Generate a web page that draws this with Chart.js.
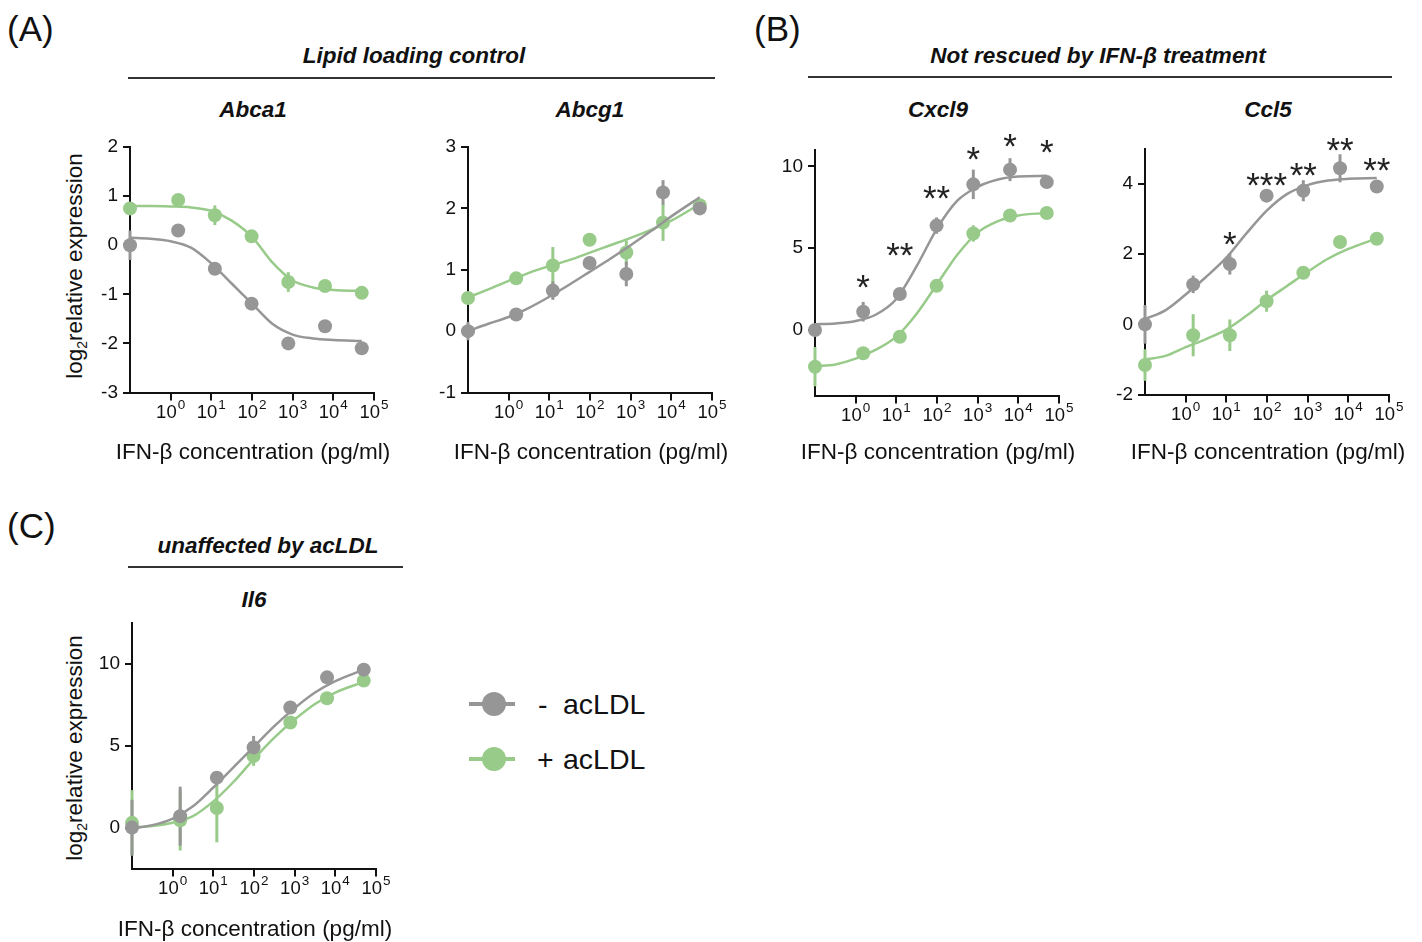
<!DOCTYPE html>
<html>
<head>
<meta charset="utf-8">
<title>IFN-beta dose response</title>
<script src="https://cdn.jsdelivr.net/npm/chart.js@4.4.1/dist/chart.umd.min.js"></script>
<style>
  html, body { margin: 0; padding: 0; background: #fff; }
  body {
    width: 1422px; height: 942px; position: relative; overflow: hidden;
    font-family: "Liberation Sans", Arial, Helvetica, sans-serif; color: #111;
  }
  .abs { position: absolute; white-space: nowrap; line-height: 1; }
  .panel { font-size: 35px; }
  .group, .gene { font-size: 22.5px; font-weight: bold; font-style: italic; transform: translateX(-50%); }
  .rule { position: absolute; height: 1.5px; background: #333; }
  .ytitle { font-size: 22.5px; transform: translate(-50%, -50%) rotate(-90deg); }
  .ytitle sub { font-size: 14px; vertical-align: -5px; line-height: 0; }
  canvas { position: absolute; }
  .leg-line { position: absolute; width: 46px; height: 4px; }
  .leg-dot { position: absolute; width: 24px; height: 24px; border-radius: 50%; }
  .leg-text { font-size: 28.5px; }
</style>
</head>
<body>

<!-- panel letters, group headings, gene names -->
<div class="abs panel" style="left:7px; top:11px;">(A)</div>
<div class="abs panel" style="left:754px; top:11px;">(B)</div>
<div class="abs panel" style="left:7px; top:508px;">(C)</div>

<div class="abs group" style="left:414px; top:45px;">Lipid loading control</div>
<div class="rule" style="left:128px; width:587px; top:77px;"></div>
<div class="abs group" style="left:1098px; top:45px;">Not rescued by IFN-β treatment</div>
<div class="rule" style="left:808px; width:584px; top:76px;"></div>
<div class="abs group" style="left:268px; top:535px;">unaffected by acLDL</div>
<div class="rule" style="left:128px; width:275px; top:566px;"></div>

<div class="abs gene" style="left:253px; top:99px;">Abca1</div>
<div class="abs gene" style="left:590px; top:99px;">Abcg1</div>
<div class="abs gene" style="left:938px; top:99px;">Cxcl9</div>
<div class="abs gene" style="left:1268px; top:99px;">Ccl5</div>
<div class="abs gene" style="left:254px; top:589px;">Il6</div>

<div class="abs ytitle" style="left:75px; top:266px;">log<sub>2</sub>relative expression</div>
<div class="abs ytitle" style="left:75px; top:748px;">log<sub>2</sub>relative expression</div>

<canvas id="abca1"></canvas>
<canvas id="abcg1"></canvas>
<canvas id="cxcl9"></canvas>
<canvas id="ccl5"></canvas>
<canvas id="il6"></canvas>

<!-- legend -->
<div class="leg-line" style="left:469px; top:702px; background:rgb(150,150,150);"></div>
<div class="leg-dot" style="left:482px; top:692px; background:rgb(150,150,150);"></div>
<div class="abs leg-text" style="left:538px; top:690px;">-</div>
<div class="abs leg-text" style="left:563px; top:690px;">acLDL</div>
<div class="leg-line" style="left:469px; top:757px; background:rgb(152,203,138);"></div>
<div class="leg-dot" style="left:482px; top:747px; background:rgb(152,203,138);"></div>
<div class="abs leg-text" style="left:537px; top:745px;">+</div>
<div class="abs leg-text" style="left:563px; top:745px;">acLDL</div>

<script>
// IFN-beta doses (pg/ml). The untreated well (0 pg/ml) sits at the left end of the log axis, 0.1.
const conc = [0.1, 1.53, 12.2, 97.7, 781, 6250, 50000];
const fitX = [0.1, 0.316, 1, 3.16, 10, 31.6, 100, 316, 1000, 3160, 10000, 50000];
const xTickValues = [1, 10, 100, 1000, 10000, 100000];
const xTitle = "IFN-β concentration (pg/ml)";

// ---- Abca1 ----
const abca1Minus    = [0.0, 0.3, -0.48, -1.19, -2.0, -1.65, -2.1];
const abca1MinusErr = [0.3, 0.05, 0.05, 0.08, 0.05, 0.05, 0.05];
const abca1MinusFit = [0.15, 0.13, 0.08, -0.05, -0.37, -0.78, -1.19, -1.6, -1.82, -1.9, -1.93, -1.95];
const abca1Plus     = [0.75, 0.92, 0.61, 0.18, -0.75, -0.83, -0.97];
const abca1PlusErr  = [0.08, 0.05, 0.2, 0.08, 0.2, 0.05, 0.05];
const abca1PlusFit  = [0.8, 0.8, 0.79, 0.77, 0.7, 0.5, 0.17, -0.35, -0.72, -0.86, -0.91, -0.93];

// ---- Abcg1 ----
const abcg1Minus    = [0.0, 0.27, 0.66, 1.11, 0.93, 2.26, 2.0];
const abcg1MinusErr = [0.15, 0.05, 0.15, 0.1, 0.2, 0.2, 0.05];
const abcg1MinusFit = [0.0, 0.12, 0.23, 0.38, 0.56, 0.76, 0.97, 1.18, 1.4, 1.63, 1.87, 2.18];
const abcg1Plus     = [0.54, 0.86, 1.07, 1.49, 1.28, 1.77, 2.05];
const abcg1PlusErr  = [0.05, 0.05, 0.3, 0.05, 0.2, 0.3, 0.05];
const abcg1PlusFit  = [0.55, 0.68, 0.82, 0.95, 1.06, 1.16, 1.28, 1.4, 1.52, 1.65, 1.8, 2.07];

// ---- Cxcl9 ----
const cxcl9Minus    = [0.0, 1.12, 2.2, 6.38, 8.9, 9.8, 9.04];
const cxcl9MinusErr = [0.3, 0.6, 0.2, 0.5, 0.9, 0.7, 0.2];
const cxcl9MinusFit = [0.35, 0.4, 0.55, 0.95, 1.9, 3.9, 6.2, 7.9, 8.75, 9.2, 9.38, 9.42];
const cxcl9Plus     = [-2.24, -1.42, -0.41, 2.7, 5.9, 7.0, 7.15];
const cxcl9PlusErr  = [1.2, 0.2, 0.2, 0.2, 0.5, 0.2, 0.2];
const cxcl9PlusFit  = [-2.2, -2.1, -1.75, -1.2, -0.4, 1.0, 2.8, 4.6, 5.95, 6.65, 7.0, 7.15];
const cxcl9Stars    = ["", "*", "**", "**", "*", "*", "*"];
const cxcl9StarY    = [0, 2.95, 4.9, 8.4, 10.8, 11.6, 11.2];

// ---- Ccl5 ----
const ccl5Minus     = [0.0, 1.14, 1.72, 3.67, 3.81, 4.45, 3.93];
const ccl5MinusErr  = [0.55, 0.25, 0.3, 0.1, 0.3, 0.4, 0.1];
const ccl5MinusFit  = [0.15, 0.4, 0.85, 1.35, 1.9, 2.6, 3.25, 3.72, 3.97, 4.1, 4.15, 4.17];
const ccl5Plus      = [-1.16, -0.31, -0.31, 0.66, 1.47, 2.35, 2.44];
const ccl5PlusErr   = [0.45, 0.6, 0.45, 0.3, 0.1, 0.1, 0.1];
const ccl5PlusFit   = [-1.0, -0.9, -0.65, -0.42, -0.15, 0.25, 0.7, 1.1, 1.5, 1.87, 2.15, 2.45];
const ccl5Stars     = ["", "", "*", "***", "**", "**", "**"];
const ccl5StarY     = [0, 0, 2.46, 4.12, 4.42, 5.14, 4.55];

// ---- Il6 ----
const il6Minus      = [0.0, 0.7, 3.05, 4.9, 7.34, 9.18, 9.65];
const il6MinusErr   = [1.7, 1.8, 0.3, 0.7, 0.3, 0.3, 0.2];
const il6MinusFit   = [-0.05, 0.15, 0.55, 1.3, 2.45, 3.7, 4.95, 6.2, 7.3, 8.25, 8.95, 9.65];
const il6Plus       = [0.29, 0.45, 1.2, 4.37, 6.42, 7.9, 8.98];
const il6PlusErr    = [2.0, 1.85, 2.1, 0.6, 0.3, 0.2, 0.2];
const il6PlusFit    = [0.0, 0.1, 0.3, 0.7, 1.6, 2.8, 4.2, 5.5, 6.6, 7.55, 8.25, 8.9];

const GRAY = "rgb(150, 150, 150)";
const GREEN = "rgb(152, 203, 138)";
const INK = "#111";
const FONT = '"Liberation Sans", Arial, Helvetica, sans-serif';

Chart.defaults.font.family = FONT;
Chart.defaults.color = INK;

// plot boxes on the page (left/top of the axes), all 244 x 245
const PLOT_W = 244, PLOT_H = 245;
const PAD_L = 70, PAD_T = 60, PAD_R = 30;
const TITLE_SIZE = 22.5;

const panels = [
  { id: "abca1", left: 130, top: 147, yMin: -3, yMax: 2, yTicks: [-3, -2, -1, 0, 1, 2], titleGap: 60,
    minus: abca1Minus, minusErr: abca1MinusErr, minusFit: abca1MinusFit,
    plus: abca1Plus, plusErr: abca1PlusErr, plusFit: abca1PlusFit },
  { id: "abcg1", left: 468, top: 147, yMin: -1, yMax: 3, yTicks: [-1, 0, 1, 2, 3], titleGap: 60,
    minus: abcg1Minus, minusErr: abcg1MinusErr, minusFit: abcg1MinusFit,
    plus: abcg1Plus, plusErr: abcg1PlusErr, plusFit: abcg1PlusFit },
  { id: "cxcl9", left: 815, top: 150, yMin: -4, yMax: 11, yTicks: [0, 5, 10], titleGap: 57,
    minus: cxcl9Minus, minusErr: cxcl9MinusErr, minusFit: cxcl9MinusFit,
    plus: cxcl9Plus, plusErr: cxcl9PlusErr, plusFit: cxcl9PlusFit,
    stars: cxcl9Stars, starY: cxcl9StarY },
  { id: "ccl5", left: 1145, top: 149, yMin: -2, yMax: 5, yTicks: [-2, 0, 2, 4], titleGap: 58,
    minus: ccl5Minus, minusErr: ccl5MinusErr, minusFit: ccl5MinusFit,
    plus: ccl5Plus, plusErr: ccl5PlusErr, plusFit: ccl5PlusFit,
    stars: ccl5Stars, starY: ccl5StarY },
  { id: "il6", left: 132, top: 623, yMin: -2.5, yMax: 12.5, yTicks: [0, 5, 10], titleGap: 61,
    minus: il6Minus, minusErr: il6MinusErr, minusFit: il6MinusFit,
    plus: il6Plus, plusErr: il6PlusErr, plusFit: il6PlusFit }
];

const toPoints = (xs, ys) => ys.map((y, i) => ({ x: xs[i], y }));

// error bars, significance stars, 10^n tick labels and the x title
function extrasPlugin(p) {
  return {
    id: "extras",
    beforeDatasetsDraw(chart) {
      const { ctx, scales: { x, y } } = chart;
      ctx.save();
      ctx.lineWidth = 3;
      for (const [vals, errs, color] of [[p.plus, p.plusErr, GREEN], [p.minus, p.minusErr, GRAY]]) {
        ctx.strokeStyle = color;
        vals.forEach((v, i) => {
          const px = x.getPixelForValue(conc[i]);
          ctx.beginPath();
          ctx.moveTo(px, y.getPixelForValue(v - errs[i]));
          ctx.lineTo(px, y.getPixelForValue(v + errs[i]));
          ctx.stroke();
        });
      }
      ctx.restore();
    },
    afterDatasetsDraw(chart) {
      if (!p.stars) return;
      const { ctx, scales: { x, y } } = chart;
      ctx.save();
      ctx.fillStyle = "#222";
      ctx.font = `35px ${FONT}`;
      ctx.textAlign = "center";
      ctx.textBaseline = "alphabetic";
      p.stars.forEach((s, i) => {
        if (!s) return;
        const m = ctx.measureText(s);
        const cy = y.getPixelForValue(p.starY[i]);
        const base = cy + (m.actualBoundingBoxAscent - m.actualBoundingBoxDescent) / 2;
        ctx.fillText(s, x.getPixelForValue(conc[i]), base);
      });
      ctx.restore();
    },
    afterDraw(chart) {
      const { ctx, scales: { x } } = chart;
      const base = x.top + 25;
      ctx.save();
      ctx.fillStyle = INK;
      ctx.textBaseline = "alphabetic";
      ctx.textAlign = "left";
      for (const v of xTickValues) {
        const exp = String(Math.round(Math.log10(v)));
        ctx.font = `18.5px ${FONT}`;
        const w1 = ctx.measureText("10").width;
        ctx.font = `13.5px ${FONT}`;
        const w2 = ctx.measureText(exp).width;
        const start = x.getPixelForValue(v) - (w1 + w2 + 1) / 2;
        ctx.font = `18.5px ${FONT}`;
        ctx.fillText("10", start, base);
        ctx.font = `13.5px ${FONT}`;
        ctx.fillText(exp, start + w1 + 1, base - 9);
      }
      // axis title, drawn without Chart.js' maxWidth squeeze
      ctx.font = `${TITLE_SIZE}px ${FONT}`;
      ctx.textAlign = "center";
      ctx.textBaseline = "middle";
      ctx.fillText(xTitle, (x.left + x.right) / 2 + 1, x.top + p.titleGap);
      ctx.restore();
    }
  };
}

function makeChart(p) {
  const canvas = document.getElementById(p.id);
  const xh = p.titleGap + TITLE_SIZE * 0.6;
  const w = PAD_L + PLOT_W + PAD_R;
  const h = PAD_T + PLOT_H + xh;
  canvas.width = w;
  canvas.height = Math.round(h);
  canvas.style.left = (p.left - PAD_L) + "px";
  canvas.style.top = (p.top - PAD_T) + "px";
  canvas.style.width = w + "px";
  canvas.style.height = Math.round(h) + "px";

  const axisGrid = { drawOnChartArea: false, color: INK, lineWidth: 2 };
  const axisBorder = { display: true, color: INK, width: 2 };

  return new Chart(canvas, {
    type: "scatter",
    data: {
      datasets: [
        { type: "scatter", label: "- acLDL", data: toPoints(conc, p.minus), order: 0,
          pointRadius: 7, pointBackgroundColor: GRAY, pointBorderWidth: 0, clip: false },
        { type: "line", label: "- acLDL fit", data: toPoints(fitX, p.minusFit), order: 1,
          borderColor: GRAY, borderWidth: 2.5, pointRadius: 0, fill: false,
          cubicInterpolationMode: "monotone", clip: false },
        { type: "scatter", label: "+ acLDL", data: toPoints(conc, p.plus), order: 2,
          pointRadius: 7, pointBackgroundColor: GREEN, pointBorderWidth: 0, clip: false },
        { type: "line", label: "+ acLDL fit", data: toPoints(fitX, p.plusFit), order: 3,
          borderColor: GREEN, borderWidth: 2.5, pointRadius: 0, fill: false,
          cubicInterpolationMode: "monotone", clip: false }
      ]
    },
    options: {
      responsive: false,
      animation: false,
      events: [],
      layout: { padding: { left: 0, top: PAD_T, right: PAD_R, bottom: 0 } },
      plugins: { legend: { display: false }, tooltip: { enabled: false } },
      scales: {
        x: {
          type: "logarithmic",
          min: 0.1,
          max: 100000,
          afterBuildTicks: (s) => { s.ticks = xTickValues.map((v) => ({ value: v })); },
          afterFit: (s) => { s.height = xh; },
          ticks: { display: false },
          grid: { ...axisGrid, tickLength: 8 },
          border: axisBorder,
          title: { display: false }
        },
        y: {
          type: "linear",
          min: p.yMin,
          max: p.yMax,
          afterBuildTicks: (s) => { s.ticks = p.yTicks.map((v) => ({ value: v })); },
          afterFit: (s) => { s.width = PAD_L; },
          ticks: { font: { size: 19 }, color: INK, padding: 5 },
          grid: { ...axisGrid, tickLength: 7 },
          border: axisBorder
        }
      }
    },
    plugins: [extrasPlugin(p)]
  });
}

panels.forEach(makeChart);
</script>
</body>
</html>
